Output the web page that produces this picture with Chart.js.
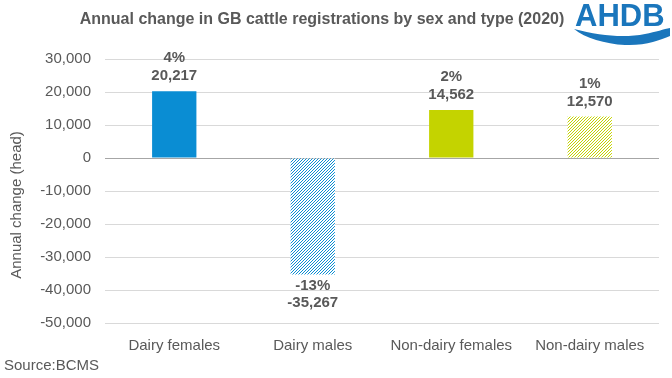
<!DOCTYPE html>
<html>
<head>
<meta charset="utf-8">
<script src="https://cdn.jsdelivr.net/npm/chart.js@4/dist/chart.umd.min.js"></script>
<style>
  html, body { margin: 0; padding: 0; background: #ffffff; }
  #wrap { width: 672px; height: 378px; position: relative; }
</style>
</head>
<body>
<div id="wrap"><canvas id="c" width="672" height="378"></canvas></div>
<script>
const categories = ['Dairy females', 'Dairy males', 'Non-dairy females', 'Non-dairy males'];
const values = [20217, -35267, 14562, 12570];
const pctLabels = ['4%', '-13%', '2%', '1%'];
const yTicks = [30000, 20000, 10000, 0, -10000, -20000, -30000, -40000, -50000];
const titleText = 'Annual change in GB cattle registrations by sex and type (2020)';
const yTitle = 'Annual change (head)';
const sourceText = 'Source:BCMS';

const FONT = "'Liberation Sans', Arial, sans-serif";
const TXT = '#595959';
const BLUE = '#0a8dd3';
const LIME = '#c4d300';

function hatch(color) {
  const n = 3;
  const p = document.createElement('canvas');
  p.width = n; p.height = n;
  const g = p.getContext('2d');
  g.fillStyle = '#ffffff';
  g.fillRect(0, 0, n, n);
  g.fillStyle = color;
  for (let x = 0; x < n; x++) {
    for (let y = 0; y < n; y++) {
      if ((x + y) % n === n - 1) g.fillRect(x, y, 1, 1);
    }
  }
  return document.getElementById('c').getContext('2d').createPattern(p, 'repeat');
}

const barColors = [BLUE, hatch(BLUE), LIME, hatch(LIME)];

const decor = {
  id: 'decor',
  afterDraw(chart) {
    const ctx = chart.ctx;
    ctx.save();
    // title
    ctx.fillStyle = TXT;
    ctx.font = 'bold 16px ' + FONT;
    ctx.textAlign = 'center';
    ctx.textBaseline = 'middle';
    ctx.fillText(titleText, 322, 20);
    // source
    ctx.font = '15px ' + FONT;
    ctx.textAlign = 'left';
    ctx.fillText(sourceText, 4, 366);
    // y axis title
    ctx.save();
    ctx.translate(17, 205);
    ctx.rotate(-Math.PI / 2);
    ctx.textAlign = 'center';
    ctx.textBaseline = 'middle';
    ctx.fillText(yTitle, 0, 0);
    ctx.restore();
    // logo
    ctx.fillStyle = '#1a76bc';
    ctx.font = 'bold 31px ' + FONT;
    ctx.textAlign = 'left';
    ctx.textBaseline = 'alphabetic';
    ctx.fillText('AHDB', 575, 26);
    ctx.beginPath();
    ctx.moveTo(574, 29);
    ctx.bezierCurveTo(600, 36, 625, 38, 645, 34);
    ctx.bezierCurveTo(656, 32, 664, 29, 670, 28);
    ctx.lineTo(670, 36);
    ctx.bezierCurveTo(660, 40, 645, 46, 625, 45);
    ctx.bezierCurveTo(605, 44, 585, 38, 574, 29);
    ctx.closePath();
    ctx.fill();
    ctx.restore();
  },
  afterDatasetsDraw(chart) {
    const ctx = chart.ctx;
    const meta = chart.getDatasetMeta(0);
    ctx.save();
    ctx.fillStyle = TXT;
    ctx.font = 'bold 15px ' + FONT;
    ctx.textAlign = 'center';
    ctx.textBaseline = 'middle';
    meta.data.forEach((el, i) => {
      const v = values[i];
      const txt = v.toLocaleString('en-GB');
      if (v >= 0) {
        ctx.fillText(pctLabels[i], el.x, el.y - 33);
        ctx.fillText(txt, el.x, el.y - 15);
      } else {
        ctx.fillText(pctLabels[i], el.x, el.y + 11);
        ctx.fillText(txt, el.x, el.y + 28);
      }
    });
    ctx.restore();
  }
};

new Chart(document.getElementById('c'), {
  type: 'bar',
  data: {
    labels: categories,
    datasets: [{
      data: values,
      backgroundColor: barColors,
      borderWidth: 0,
      barPercentage: 0.32,
      categoryPercentage: 1.0
    }]
  },
  options: {
    responsive: false,
    animation: false,
    devicePixelRatio: 1,
    layout: { padding: { left: 0, right: 13, top: 59, bottom: 25 } },
    plugins: {
      legend: { display: false },
      tooltip: { enabled: false },
      title: { display: false }
    },
    scales: {
      x: {
        grid: { display: false },
        border: { display: false },
        ticks: { color: TXT, font: { family: FONT, size: 15 }, padding: 6, maxRotation: 0, autoSkip: false },
        afterFit(s) { s.height = 30; }
      },
      y: {
        min: -50000,
        max: 30000,
        afterBuildTicks(s) { s.ticks = yTicks.map(v => ({ value: v })); },
        ticks: {
          color: TXT,
          font: { family: FONT, size: 15 },
          padding: 14,
          callback: v => v.toLocaleString('en-GB')
        },
        grid: {
          color: ctx => (ctx.tick && ctx.tick.value === 0 ? '#a6a6a6' : '#d9d9d9'),
          lineWidth: 1,
          drawTicks: false
        },
        border: { display: false },
        title: { display: false, text: yTitle },
        afterFit(s) { s.width = 105; }
      }
    }
  },
  plugins: [decor]
});
</script>
</body>
</html>
